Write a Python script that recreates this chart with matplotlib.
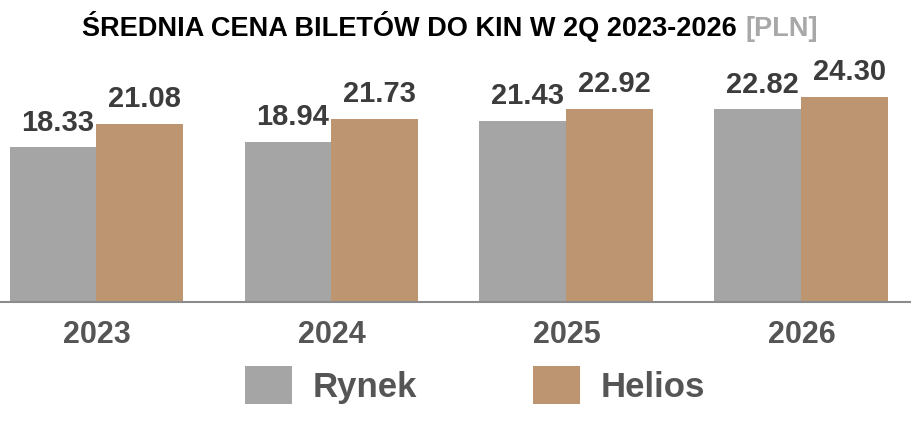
import matplotlib
matplotlib.use("Agg")
import matplotlib.pyplot as plt
import matplotlib.transforms as mtransforms
import numpy as np

plt.rcParams['font.family'] = ['Liberation Sans', 'DejaVu Sans']
plt.rcParams['font.weight'] = 'bold'

years = ["2023", "2024", "2025", "2026"]
series_names = ["Rynek", "Helios"]
rynek = [18.33, 18.94, 21.43, 22.82]
helios = [21.08, 21.73, 22.92, 24.30]
title_main = "ŚREDNIA CENA BILETÓW DO KIN W 2Q 2023-2026"
title_unit = "[PLN]"

C_GRAY = "#a5a5a5"
C_TAN = "#be9571"
W, H = 911, 422
fig = plt.figure(figsize=(W / 100, H / 100), dpi=100)

base_px = 302
top_px = 60
ax = fig.add_axes([0, (H - base_px) / H, 1, (base_px - top_px) / H])
ppu = 8.44
spacing = 235.0
first = 96.5
ax.set_xlim(-first / spacing, (W - first) / spacing)
ax.set_ylim(0, (base_px - top_px) / ppu)

x = np.arange(len(years))
bw = 87 / spacing
b1 = ax.bar(x - bw / 2, rynek, bw, color=C_GRAY, label=series_names[0])
b2 = ax.bar(x + bw / 2, helios, bw, color=C_TAN, label=series_names[1])

for bars, vals in ((b1, rynek), (b2, helios)):
    for r, v in zip(bars, vals):
        ax.annotate(f"{v:.2f}", xy=(r.get_x() + r.get_width() / 2, v),
                    xytext=(3, 12), textcoords="offset points",
                    ha="center", va="baseline", fontsize=21,
                    fontweight="bold", color="#3c3c3c")

for s in ("top", "left", "right"):
    ax.spines[s].set_visible(False)
ax.spines["bottom"].set_color("#8c8c8c")
ax.spines["bottom"].set_linewidth(1.5)
ax.set_yticks([])
ax.set_xticks([])

trans = mtransforms.blended_transform_factory(ax.transData, fig.transFigure)
for i, yl in enumerate(years):
    ax.text(i, (H - 343) / H, yl, transform=trans, ha="center", va="baseline",
            fontsize=22, fontweight="bold", color="#555555")

leg = fig.legend(handles=[b1, b2], labels=series_names, ncol=2, frameon=False,
                 loc="center left", bbox_to_anchor=(245 / W, (H - 385) / H),
                 borderpad=0, borderaxespad=0, fontsize=25,
                 handlelength=1.35, handleheight=1.35, handletextpad=0.6,
                 columnspacing=3.35)
for t in leg.get_texts():
    t.set_color("#555555")
    t.set_fontweight("bold")

# title
t1 = fig.text(0, (H - 36) / H, title_main, ha="left", va="baseline",
              fontsize=19.5, fontweight="bold", color="black")
t2 = fig.text(0, (H - 36) / H, title_unit, ha="left", va="baseline",
              fontsize=19.5, fontweight="bold", color="#a8a8a8")
fig.canvas.draw()
r = fig.canvas.get_renderer()
w1 = t1.get_window_extent(r).width
w2 = t2.get_window_extent(r).width
gap = 8
total = w1 + gap + w2
start = 450 - total / 2
t1.set_x(start / W)
t2.set_x((start + w1 + gap) / W)

fig.savefig("out.png", dpi=100)
